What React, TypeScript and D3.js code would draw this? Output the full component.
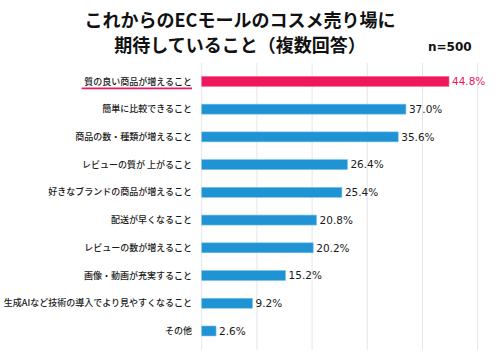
import React from "react";
import * as d3 from "d3";

const categories = [
  "質の良い商品が増えること",
  "簡単に比較できること",
  "商品の数・種類が増えること",
  "レビューの質が 上がること",
  "好きなブランドの商品が増えること",
  "配送が早くなること",
  "レビューの数が増えること",
  "画像・動画が充実すること",
  "生成AIなど技術の導入でより見やすくなること",
  "その他",
];
const values = [44.8, 37.0, 35.6, 26.4, 25.4, 20.8, 20.2, 15.2, 9.2, 2.6];
const gridTicks = [0, 10, 20, 30, 40, 50];
const titleLines = ["これからのECモールのコスメ売り場に", "期待していること（複数回答）"];
const sampleNote = "n=500";

const W = 500;
const H = 356;
const PINK = "#f0185c";
const BLUE = "#1f93d3";

export default function App() {
  const x = d3.scaleLinear().domain([0, 50]).range([201.7, 477.7]);
  const y = d3
    .scaleBand<number>()
    .domain(d3.range(categories.length))
    .range([62.7, 349.7])
    .paddingInner(0.65)
    .paddingOuter(0.5);
  const bh = 10;
  const jp = "'Noto Sans CJK JP', sans-serif";

  return (
    <svg
      width={W}
      height={H}
      style={{ position: "absolute", left: 0, top: 0, background: "#fff" }}
    >
      {titleLines.map((t, i) => (
        <text
          key={i}
          x={240}
          y={27 + i * 25}
          textAnchor="middle"
          fontFamily={jp}
          fontWeight={700}
          fontSize={18}
          fill="#111"
        >
          {t}
        </text>
      ))}
      <text
        x={428}
        y={51}
        fontFamily="'DejaVu Sans', sans-serif"
        fontWeight={700}
        fontSize={12}
        fill="#111"
      >
        {sampleNote}
      </text>
      {gridTicks.map((t) => (
        <line
          key={t}
          x1={x(t)}
          x2={x(t)}
          y1={63}
          y2={350}
          stroke="#e6e6e6"
          strokeWidth={1}
        />
      ))}
      {values.map((v, i) => {
        const cy = (y(i) as number) + y.bandwidth() / 2;
        const first = i === 0;
        return (
          <g key={i}>
            <rect
              x={x(0)}
              y={cy - bh / 2}
              width={x(v) - x(0)}
              height={bh}
              fill={first ? PINK : BLUE}
              stroke={first ? "#f56a92" : "#7cc4ec"}
              strokeWidth={0.6}
            />
            <text
              x={192}
              y={cy}
              dy="0.35em"
              textAnchor="end"
              fontFamily={jp}
              fontWeight={500}
              fontSize={9}
              fill="#1a1a1a"
            >
              {categories[i]}
            </text>
            {first && (
              <line
                x1={81.7}
                x2={192}
                y1={cy + 7}
                y2={cy + 7}
                stroke={PINK}
                strokeWidth={1.8}
              />
            )}
            <text
              x={x(v) + 3}
              y={cy}
              dy="0.36em"
              fontFamily="'DejaVu Sans', sans-serif"
              fontSize={10.5}
              fill={first ? PINK : "#1a1a1a"}
            >
              {v.toFixed(1) + "%"}
            </text>
          </g>
        );
      })}
    </svg>
  );
}
